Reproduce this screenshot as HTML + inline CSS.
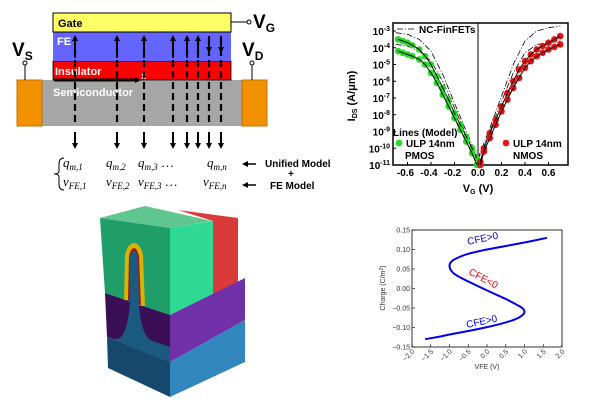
<!DOCTYPE html>
<html><head><meta charset="utf-8"><style>
body{margin:0;background:#fff;width:604px;height:400px;overflow:hidden}
svg{display:block;font-family:"Liberation Sans",sans-serif}
</style></head><body>
<svg id="s" width="604" height="400" viewBox="0 0 604 400" xmlns="http://www.w3.org/2000/svg">
<defs>
<marker id="ah" markerWidth="6" markerHeight="6" refX="3" refY="3" orient="auto" markerUnits="userSpaceOnUse"><path d="M0,0 L6,3 L0,6 z" fill="#000"/></marker>
</defs>
<g>
<rect x="17" y="80" width="250" height="46" fill="#a6a6a6"/>
<rect x="17" y="80" width="25" height="46" fill="#f39200" stroke="#c07000"/>
<rect x="242" y="80" width="25" height="46" fill="#f39200" stroke="#c07000"/>
<rect x="53" y="61" width="178" height="19" fill="#ff0000" stroke="#000" stroke-width="0.8"/>
<rect x="53" y="32" width="178" height="29" fill="#6464ff"/>
<rect x="53" y="13" width="178" height="19" fill="#ffff66" stroke="#000" stroke-width="1"/>
<text x="58" y="27" font-size="11" font-weight="bold">Gate</text>
<text x="57" y="45" font-size="11" font-weight="bold" fill="#fff">FE</text>
<text x="55" y="75" font-size="11" font-weight="bold" fill="#fff">Insulator</text>
<text x="53" y="96" font-size="11" font-weight="bold" fill="#fff">Semiconductor</text>
<line x1="231" y1="22" x2="248" y2="22" stroke="#000"/><circle cx="249" cy="22" r="2" fill="#fff" stroke="#000"/>
<text x="253" y="28" font-size="19" font-weight="bold">V<tspan font-size="12" dy="4">G</tspan></text>
<line x1="25" y1="65" x2="25" y2="80" stroke="#000"/><circle cx="25" cy="63" r="2" fill="#fff" stroke="#000"/>
<text x="12" y="56" font-size="19" font-weight="bold">V<tspan font-size="12" dy="4">S</tspan></text>
<line x1="252" y1="65" x2="252" y2="80" stroke="#000"/><circle cx="252" cy="63" r="2" fill="#fff" stroke="#000"/>
<text x="242" y="56" font-size="19" font-weight="bold">V<tspan font-size="12" dy="4">D</tspan></text>
<line x1="54" y1="80" x2="138" y2="80" stroke="#000" stroke-width="3" marker-end="url(#ah)"/>
<text x="141" y="79" font-size="9" fill="#fff" font-weight="bold">x</text>
<g id="cols"></g>
<text font-size="13" font-family="Liberation Serif,serif" font-style="italic"><tspan x="63" y="167">q<tspan font-size="9" dy="3">m,1</tspan></tspan><tspan x="106" y="167">q<tspan font-size="9" dy="3">m,2</tspan></tspan><tspan x="138" y="167">q<tspan font-size="9" dy="3">m,3</tspan><tspan dy="-3" font-style="normal"> …</tspan></tspan><tspan x="207" y="167">q<tspan font-size="9" dy="3">m,n</tspan></tspan></text>
<text font-size="13" font-family="Liberation Serif,serif" font-style="italic"><tspan x="63" y="186">v<tspan font-size="9" dy="3">FE,1</tspan></tspan><tspan x="106" y="186">v<tspan font-size="9" dy="3">FE,2</tspan></tspan><tspan x="138" y="186">v<tspan font-size="9" dy="3">FE,3</tspan><tspan dy="-3" font-style="normal"> …</tspan></tspan><tspan x="203" y="186">v<tspan font-size="9" dy="3">FE,n</tspan></tspan></text>
<path d="M64,158 Q59,158 59,164 L59,171 Q59,174 54,174 Q59,174 59,177 L59,184 Q59,190 64,190" fill="none" stroke="#000"/>
<line x1="256" y1="164" x2="245" y2="164" stroke="#000" stroke-width="1.5" marker-end="url(#ah)"/>
<line x1="256" y1="185" x2="245" y2="185" stroke="#000" stroke-width="1.5" marker-end="url(#ah)"/>
<text x="265" y="167" font-size="10" font-weight="bold">Unified Model</text>
<text x="288" y="177" font-size="10" font-weight="bold">+</text>
<text x="270" y="189" font-size="10" font-weight="bold">FE Model</text>
</g>
<g>
<polygon points="178,210 238,218 238,282 213,294 213,221" fill="#d93a3a"/>
<polygon points="100,218 145,206 212,221 170,228" fill="#5fc690"/>
<polygon points="100,218 170,228 170,315 105,293" fill="#1f9e6a"/>
<polygon points="170,228 213,221 213,294 170,315" fill="#2fd895"/>
<polygon points="105,293 170,315 170,362 107,337" fill="#3a0f55"/>
<polygon points="170,315 245,278 245,320 170,362" fill="#7030a8"/>
<polygon points="107,337 170,362 170,397 108,368" fill="#16486e"/>
<polygon points="170,362 245,320 245,362 170,397" fill="#3186bd"/>
<path d="M124,300 L125,255 Q128,243 134,243 Q140,243 143,255 L145,306 L138,306 L137,258 Q135,252 134,252 Q132,252 131,258 L130,300 Z" fill="#d6b400"/>
<path d="M128,300 L129,256 Q131,248 134,248 Q137,248 139,256 L141,306 Z" fill="#a01818"/>
<path d="M130,300 L130,258 Q131,251 134,251 Q137,251 138,258 L139,305 Q141,333 150,340 L170,347 L170,362 L107,337 L107,336 Q116,342 122,336 Q129,325 130,300 Z" fill="#1a5a80"/>
</g>
<g id="iv"></g>
<g id="qv"></g>
</svg>
<script>
const NS='http://www.w3.org/2000/svg';
function mk(p,t,a){const e=document.createElementNS(NS,t);for(const k in a)e.setAttribute(k,a[k]);p.appendChild(e);return e;}
const cols=document.getElementById('cols');
const colX=[75,117,144,173,187,198,209,221];
colX.forEach((x,i)=>{
 mk(cols,'line',{x1:x,y1:38,x2:x,y2:124,stroke:'#000','stroke-width':2.2,'stroke-dasharray':'7,4'});
 const a=mk(cols,'line',{x1:x,y1:132,x2:x,y2:146,stroke:'#000','stroke-width':2,'marker-end':'url(#ah)'});
 
 
 if(i>=6){mk(cols,'line',{x1:x,y1:36,x2:x,y2:50,stroke:'#000','stroke-width':2,'marker-end':'url(#ah)'});}
 else{mk(cols,'line',{x1:x,y1:58,x2:x,y2:38,stroke:'#000','stroke-width':2,'marker-end':'url(#ah)'});}
});

const pmosV=[-0.68,-0.64,-0.6,-0.56,-0.5,-0.45,-0.4,-0.35,-0.3,-0.25,-0.2,-0.15,-0.1,-0.05,-0.01];
const pmosHi=[-3.5,-3.6,-3.7,-3.85,-4.1,-4.5,-5.0,-5.7,-6.4,-7.1,-7.9,-8.6,-9.3,-10.0,-10.6];
const pmosLo=[-4.2,-4.3,-4.4,-4.5,-4.7,-5.0,-5.5,-6.1,-6.8,-7.5,-8.2,-8.9,-9.6,-10.3,-11.0];
const nmosV=[0.02,0.05,0.1,0.15,0.2,0.25,0.3,0.35,0.4,0.45,0.5,0.55,0.6,0.65,0.7];
const nmosHi=[-10.8,-10.0,-9.1,-8.3,-7.5,-6.7,-6.0,-5.3,-4.8,-4.4,-4.1,-3.9,-3.7,-3.5,-3.3];
const nmosLo=[-11.0,-10.2,-9.4,-8.6,-7.8,-7.1,-6.4,-5.8,-5.2,-4.8,-4.5,-4.3,-4.1,-3.95,-3.8];
const ncPV=[-0.7,-0.6,-0.5,-0.4,-0.3,-0.2,-0.1,0];
const ncPHi=[-3.1,-3.2,-3.5,-4.2,-5.6,-7.3,-9.0,-10.6];
const ncPLo=[-3.8,-3.9,-4.2,-4.8,-6.0,-7.6,-9.2,-10.7];
const ncNV=[0,0.1,0.2,0.3,0.4,0.5,0.6,0.7];
const ncNHi=[-10.6,-8.8,-6.9,-5.0,-3.6,-3.0,-2.8,-2.7];
const ncNLo=[-10.7,-9.0,-7.2,-5.5,-4.3,-3.8,-3.7,-3.6];
const ivXTicks=[-0.6,-0.4,-0.2,0.0,0.2,0.4,0.6];
const ivYTicks=[-3,-4,-5,-6,-7,-8,-9,-10,-11];

const iv=document.getElementById('iv');
const X=v=>478+v*117.5, Y=d=>165-(d+11)*16.75;
const L=393,R=568,T=23,B=165;
const pth=(xs,ys)=>xs.map((x,i)=>(i?'L':'M')+X(x).toFixed(1)+','+Y(ys[i]).toFixed(1)).join(' ');
const frame=mk(iv,'rect',{x:L,y:T,width:R-L,height:B-T,fill:'none',stroke:'#000','stroke-width':1.5});


mk(iv,'line',{x1:X(0),y1:T,x2:X(0),y2:B,stroke:'#000','stroke-width':1});
[[ncPV,ncPHi],[ncPV,ncPLo],[ncNV,ncNHi],[ncNV,ncNLo]].forEach(s=>{
 const p=mk(iv,'path',{d:pth(s[0],s[1]),fill:'none',stroke:'#000','stroke-width':0.8,'stroke-dasharray':'6,2,1,2'});
 
 
});
[[pmosV,pmosHi,'#22dd22'],[pmosV,pmosLo,'#22dd22'],[nmosV,nmosHi,'#ee1111'],[nmosV,nmosLo,'#ee1111']].forEach(s=>{
 s[0].forEach((v,i)=>{const c=mk(iv,'circle',{cx:X(v),cy:Y(s[1][i]),r:3.3,fill:s[2]});
 
 });
 const p=mk(iv,'path',{d:pth(s[0],s[1]),fill:'none',stroke:'#000','stroke-width':1});
 
 
});
ivXTicks.forEach(v=>{mk(iv,'line',{x1:X(v),y1:B,x2:X(v),y2:B-3,stroke:'#000'});
 const t=mk(iv,'text',{x:X(v)-(v<0?2:0),y:B+11,'font-size':10,'font-weight':'bold','text-anchor':'middle'});t.textContent=v.toFixed(1);
 
 });
ivYTicks.forEach(d=>{mk(iv,'line',{x1:L,y1:Y(d),x2:L+3,y2:Y(d),stroke:'#000'});
 const t=mk(iv,'text',{x:L-3,y:Y(d)+4,'font-size':10,'font-weight':'bold','text-anchor':'end'});
 t.innerHTML='10<tspan font-size="7" dy="-4">'+d+'</tspan>';
 
 });
iv.insertAdjacentHTML('beforeend',
 '<text x="478" y="192" font-size="11" font-weight="bold" text-anchor="middle">V<tspan font-size="7" dy="2">G</tspan><tspan dy="-2"> (V)</tspan></text>'+
 '<text transform="translate(355,96) rotate(-90)" font-size="11" font-weight="bold" text-anchor="middle">I<tspan font-size="7" dy="2">DS</tspan><tspan dy="-2"> (A/μm)</tspan></text>'+
 '<line x1="397" y1="29" x2="416" y2="29" stroke="#000" stroke-width="0.8" stroke-dasharray="6,2,1,2"/>'+
 '<text x="419" y="33" font-size="10" font-weight="bold">NC-FinFETs</text>'+
 '<text x="393" y="136" font-size="10" font-weight="bold">Lines (Model)</text>'+
 '<circle cx="399" cy="143" r="3.3" fill="#22dd22"/><text x="406" y="147" font-size="10" font-weight="bold">ULP 14nm</text>'+
 '<text x="405" y="159" font-size="10" font-weight="bold">PMOS</text>'+
 '<circle cx="506" cy="143" r="3.3" fill="#ee1111"/><text x="513" y="147" font-size="10" font-weight="bold">ULP 14nm</text>'+
 '<text x="513" y="159" font-size="10" font-weight="bold">NMOS</text>');

const feV=[-1.65,-1.3,-1.0,-0.5,0,0.5,0.8,0.95,1.0,0.95,0.8,0.5,0,-0.5,-0.8,-0.95,-1.0,-0.95,-0.8,-0.5,0,0.5,1.0,1.6];
const feQ=[-0.13,-0.124,-0.118,-0.109,-0.099,-0.087,-0.077,-0.068,-0.06,-0.051,-0.042,-0.027,-0.005,0.018,0.033,0.045,0.058,0.069,0.078,0.089,0.1,0.109,0.118,0.13];
const qvXTicks=[-2.0,-1.5,-1.0,-0.5,0.0,0.5,1.0,1.5,2.0];
const qvYTicks=[0.15,0.10,0.05,0.00,-0.05,-0.10,-0.15];
const qv=document.getElementById('qv');
const qL=412,qR=562,qT=230,qB=347;
const QX=v=>qL+(v+2)/4*(qR-qL), QY=q=>qB-(q+0.15)/0.3*(qB-qT);
const fr=mk(qv,'rect',{x:qL,y:qT,width:qR-qL,height:qB-qT,fill:'none',stroke:'#000','stroke-width':0.8});


let pts=feV.map((v,i)=>[QX(v),QY(feQ[i])]);
let d='M'+pts[0].join(',');
for(let i=0;i<pts.length-1;i++){const p0=pts[Math.max(0,i-1)],p1=pts[i],p2=pts[i+1],p3=pts[Math.min(pts.length-1,i+2)];
 d+=` C${(p1[0]+(p2[0]-p0[0])/6).toFixed(1)},${(p1[1]+(p2[1]-p0[1])/6).toFixed(1)} ${(p2[0]-(p3[0]-p1[0])/6).toFixed(1)},${(p2[1]-(p3[1]-p1[1])/6).toFixed(1)} ${p2[0].toFixed(1)},${p2[1].toFixed(1)}`;}
const cv=mk(qv,'path',{d:d,fill:'none',stroke:'#0000ee','stroke-width':2});


qvXTicks.forEach(v=>{mk(qv,'line',{x1:QX(v),y1:qB,x2:QX(v),y2:qB-3,stroke:'#000','stroke-width':0.6});
 const t=mk(qv,'text',{'font-size':7,fill:'#333','text-anchor':'end',transform:`translate(${QX(v)+3},${qB+5}) rotate(-45)`});
 t.textContent=(v<0?'\u2212':'')+Math.abs(v).toFixed(1);
 
 });
qvYTicks.forEach(q=>{mk(qv,'line',{x1:qL,y1:QY(q),x2:qL+3,y2:QY(q),stroke:'#000','stroke-width':0.6});
 const t=mk(qv,'text',{x:qL-2,y:QY(q)+2.5,'font-size':7,fill:'#333','text-anchor':'end'});
 t.textContent=(q<0?'\u2212':'')+Math.abs(q).toFixed(2);
 
 });
qv.insertAdjacentHTML('beforeend',
 '<text x="487" y="369" font-size="7" fill="#333" text-anchor="middle">VFE (V)</text>'+
 '<text transform="translate(385,288) rotate(-90)" font-size="7" fill="#333" text-anchor="middle">Charge (C/m<tspan font-size="5" dy="-2">2</tspan><tspan dy="2">)</tspan></text>'+
 '<text transform="translate(468,245) rotate(-12)" font-size="10" fill="#0000ee">CFE&gt;0</text>'+
 '<text transform="translate(468,274) rotate(28)" font-size="10" fill="#ee0000">CFE&lt;0</text>'+
 '<text transform="translate(467,328) rotate(-12)" font-size="10" fill="#0000ee">CFE&gt;0</text>');
</script>
</body></html>
